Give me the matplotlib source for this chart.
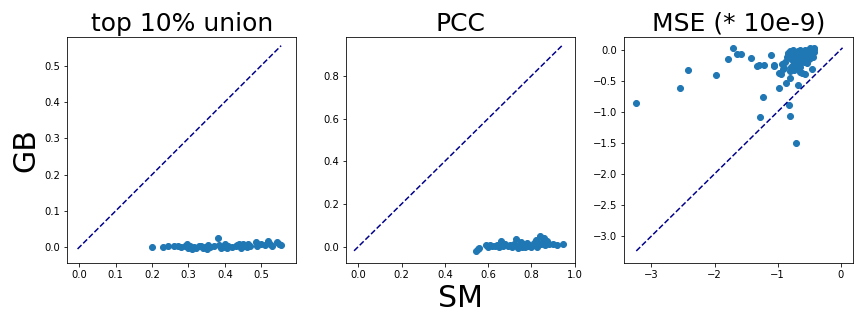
import numpy as np
import matplotlib
matplotlib.use('Agg')
import matplotlib.pyplot as plt

titles = ['top 10% union', 'PCC', 'MSE (* 10e-9)']

# top 10% union: SM vs GB
top_sm = [0.20, 0.23, 0.245, 0.26, 0.27, 0.28, 0.29, 0.295, 0.30, 0.305, 0.31, 0.315,
          0.32, 0.33, 0.335, 0.34, 0.345, 0.35, 0.355, 0.36, 0.37, 0.38, 0.385, 0.39,
          0.395, 0.40, 0.405, 0.41, 0.42, 0.43, 0.435, 0.44, 0.445, 0.45, 0.455, 0.46,
          0.465, 0.47, 0.485, 0.49, 0.50, 0.51, 0.52, 0.525, 0.53, 0.545, 0.55, 0.555]
top_gb = [0.0, 0.0, 0.004, 0.002, 0.003, 0.0, 0.002, 0.008, -0.002, 0.004, -0.004, 0.0,
          -0.003, 0.002, 0.004, -0.002, 0.0, -0.005, 0.006, 0.001, 0.003, 0.024, 0.005, -0.003,
          0.0, 0.008, -0.002, 0.002, 0.0, 0.003, 0.006, 0.010, -0.002, 0.008, 0.004, 0.0,
          0.008, 0.004, 0.014, 0.004, 0.008, 0.006, 0.018, 0.010, 0.004, 0.014, 0.010, 0.006]

# PCC
pcc_sm = [0.545, 0.555, 0.56, 0.59, 0.60, 0.61, 0.62, 0.63, 0.64, 0.65, 0.66, 0.665,
          0.67, 0.68, 0.69, 0.70, 0.71, 0.72, 0.73, 0.735, 0.74, 0.75, 0.755, 0.76,
          0.77, 0.78, 0.785, 0.79, 0.80, 0.81, 0.815, 0.82, 0.825, 0.83, 0.84, 0.845,
          0.85, 0.86, 0.865, 0.87, 0.88, 0.90, 0.92, 0.945]
pcc_gb = [-0.02, -0.01, -0.005, 0.005, 0.0, 0.008, 0.004, 0.002, 0.006, 0.0, 0.025, 0.010,
          0.004, 0.012, 0.002, 0.006, -0.002, 0.010, 0.035, 0.004, -0.005, 0.020, 0.0, 0.012,
          -0.004, 0.018, 0.004, 0.008, -0.002, 0.015, 0.005, 0.030, 0.0, 0.012, 0.050, 0.010,
          0.020, 0.040, 0.005, 0.025, 0.010, 0.010, 0.005, 0.010]

# MSE
mse_sm = [-3.24, -2.55, -2.42, -1.97, -1.78, -1.70, -1.64, -1.58, -1.42, -1.32, -1.30, -1.21,
          -1.28, -1.23, -1.10, -1.05, -0.98, -0.95, -0.93, -0.92, -0.87, -0.82, -0.81, -0.71,
          -0.68, -0.80, -0.62, -0.46, -0.48, -1.06, -0.97, -0.64, -0.56,
          -0.90, -0.88, -0.85, -0.83, -0.80, -0.78, -0.76, -0.75, -0.73, -0.72, -0.70, -0.69,
          -0.67, -0.66, -0.65, -0.63, -0.61, -0.60, -0.58, -0.57, -0.55, -0.54, -0.52, -0.51,
          -0.50, -0.49, -0.47, -0.45, -0.44, -0.43, -0.42, -0.78, -0.74, -0.70, -0.66, -0.62,
          -0.58, -0.54, -0.50, -0.46, -0.84, -0.76, -0.72, -0.68, -0.64, -0.60, -0.56, -0.52,
          -0.48, -0.44, -0.80, -0.74, -0.70, -0.65, -0.59, -0.53, -0.47, -0.43]
mse_gb = [-0.86, -0.61, -0.32, -0.41, -0.15, 0.03, -0.07, -0.07, -0.13, -0.27, -0.24, -0.25,
          -1.08, -0.77, -0.09, -0.26, -0.61, -0.39, -0.23, -0.31, -0.53, -0.89, -1.07, -1.50,
          -0.57, -0.45, -0.37, -0.31, 0.02, -0.24, -0.38, -0.36, -0.39,
          -0.30, -0.20, -0.12, -0.05, -0.02, -0.15, -0.25, -0.08, -0.18, -0.03, -0.10, -0.22,
          -0.06, -0.14, -0.01, -0.19, -0.09, -0.04, -0.13, -0.02, -0.07, -0.16, -0.03, -0.11,
          0.0, -0.05, -0.08, -0.02, -0.12, 0.01, -0.04, -0.28, -0.21, -0.26, -0.24, -0.17,
          -0.20, -0.22, -0.15, -0.10, -0.08, -0.01, -0.12, -0.02, -0.06, -0.11, 0.0, -0.06,
          -0.14, -0.03, -0.35, -0.32, -0.30, -0.28, -0.18, -0.09, -0.04, 0.02]

data = [(top_sm, top_gb), (pcc_sm, pcc_gb), (mse_sm, mse_gb)]
xlims = [(-0.033, 0.597), (-0.058, 1.001), (-3.43, 0.2)]
ylims = [(-0.043, 0.58), (-0.076, 0.984), (-3.43, 0.21)]

fig, axes = plt.subplots(1, 3, figsize=(12, 4.5), dpi=72)
fig.subplots_adjust(left=0.078, right=0.9876, bottom=0.189, top=0.887, wspace=0.216)

for ax, title, (sm, gb), xl, yl in zip(axes, titles, data, xlims, ylims):
    ax.scatter(sm, gb)
    lo = min(min(sm), min(gb))
    hi = max(max(sm), max(gb))
    ax.plot([lo, hi], [lo, hi], '--', color='darkblue')
    ax.set_xlim(xl)
    ax.set_ylim(yl)
    ax.set_title(title, fontsize=25)

axes[0].set_ylabel('GB', fontsize=30)
axes[1].set_xlabel('SM', fontsize=30)

fig.savefig('out.png', dpi=72)
